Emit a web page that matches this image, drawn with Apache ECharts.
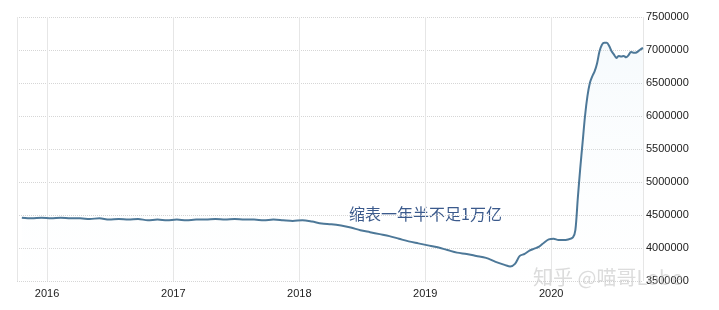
<!DOCTYPE html>
<html>
<head>
<meta charset="utf-8">
<script src="https://cdn.jsdelivr.net/npm/echarts@6/dist/echarts.min.js"></script>
<style>
html,body{margin:0;padding:0;background:#fff;}
#c{width:719px;height:310px;}
</style>
</head>
<body>
<div id="c"></div>
<script>
var dates = [
'2015-10-20','2015-11-18','2015-12-16','2016-01-13','2016-02-10','2016-03-09','2016-04-06','2016-05-04','2016-06-01','2016-06-29',
'2016-07-27','2016-08-24','2016-09-21','2016-10-19','2016-11-16','2016-12-14','2017-01-11','2017-02-08','2017-03-08','2017-04-05',
'2017-05-03','2017-05-31','2017-06-28','2017-07-26','2017-08-23','2017-09-20','2017-10-18','2017-11-15','2017-12-13','2018-01-10',
'2018-02-07','2018-03-07','2018-04-04','2018-05-02','2018-05-30','2018-06-27','2018-07-25','2018-08-22','2018-09-19','2018-10-17',
'2018-11-14','2018-12-12','2019-01-09','2019-02-06','2019-03-06','2019-04-03','2019-05-01','2019-05-29','2019-06-26','2019-07-24',
'2019-08-21','2019-09-04','2019-09-18','2019-10-02','2019-10-16','2019-10-30','2019-11-13','2019-11-27','2019-12-11','2019-12-25',
'2020-01-08','2020-01-22','2020-02-05','2020-02-19','2020-03-04','2020-03-11','2020-03-18','2020-03-25','2020-04-01','2020-04-08',
'2020-04-15','2020-04-22','2020-04-29','2020-05-06','2020-05-13','2020-05-20','2020-05-27','2020-06-03','2020-06-10','2020-06-17',
'2020-06-24','2020-07-01','2020-07-08','2020-07-15','2020-07-22','2020-07-29','2020-08-05','2020-08-12','2020-08-19','2020-08-26',
'2020-09-02','2020-09-09','2020-09-16','2020-09-23'
];
var assets = [
4460000,4450000,4460000,4450000,4460000,4450000,4450000,4440000,4450000,4430000,
4440000,4430000,4440000,4420000,4430000,4420000,4430000,4420000,4430000,4430000,
4440000,4430000,4440000,4430000,4430000,4420000,4430000,4420000,4410000,4420000,
4400000,4370000,4360000,4340000,4310000,4270000,4240000,4210000,4180000,4140000,
4100000,4070000,4040000,4010000,3970000,3930000,3910000,3880000,3850000,3790000,
3740000,3720000,3760000,3880000,3910000,3960000,3990000,4020000,4080000,4130000,
4140000,4120000,4120000,4130000,4160000,4270000,4750000,5200000,5600000,6000000,
6300000,6500000,6600000,6680000,6800000,6980000,7080000,7110000,7110000,7060000,
6980000,6930000,6880000,6910000,6900000,6910000,6890000,6920000,6970000,6960000,
6960000,6980000,7010000,7030000
];
var yMin = 3500000, yMax = 7500000, yStep = 500000;
var axisStart = '2015-10-06', axisEnd = '2020-09-23';
var note = '缩表一年半不足1万亿';
var watermark = '知乎 @喵哥Lobe';

var seriesData = dates.map(function(d, i){ return [d, assets[i]]; });
var DAY = 86400000;
var chart = echarts.init(document.getElementById('c'), null, {renderer:'canvas'});
chart.setOption({
  animation:false,
  backgroundColor:'#fff',
  grid:{left:17, right:76, top:17, bottom:29, containLabel:false},
  xAxis:{
    type:'time', min:axisStart, max:axisEnd,
    minInterval:365*DAY, maxInterval:366*DAY,
    axisLine:{show:false}, axisTick:{show:false},
    axisLabel:{formatter:'{yyyy}', color:'#222', fontSize:11, fontFamily:'Liberation Sans, Arial, sans-serif', margin:7,
      showMinLabel:false, showMaxLabel:false, hideOverlap:false},
    splitLine:{show:true, lineStyle:{color:'#e6e6e6', width:1, type:'solid'}}
  },
  yAxis:{
    type:'value', position:'right', min:yMin, max:yMax, interval:yStep,
    axisLine:{show:false}, axisTick:{show:false},
    axisLabel:{color:'#222', fontSize:11, fontFamily:'Liberation Sans, Arial, sans-serif', margin:3,
      formatter:function(v){ return String(v); }},
    splitLine:{show:true, lineStyle:{color:'#d6d6d6', width:1, type:[1,1]}}
  },
  series:[{
    type:'line', data:seriesData, showSymbol:false, smooth:0.3,
    lineStyle:{color:'#4d7898', width:2},
    areaStyle:{color:new echarts.graphic.LinearGradient(0,0,0,1,[{offset:0,color:'rgba(205,228,242,0.25)'},{offset:1,color:'rgba(235,245,250,0.02)'}])}
  }],
  graphic:[
    {type:'text', left:349, top:206, style:{text:note, fontSize:16, fill:'#3b5a8c', fontFamily:'Noto Sans CJK SC, sans-serif'}},
    {type:'text', left:533, top:267, z:100, style:{text:watermark, fontSize:20, fill:'rgba(185,185,185,0.5)', fontFamily:'Noto Sans CJK SC, sans-serif'}}
  ]
});
</script>
</body>
</html>
